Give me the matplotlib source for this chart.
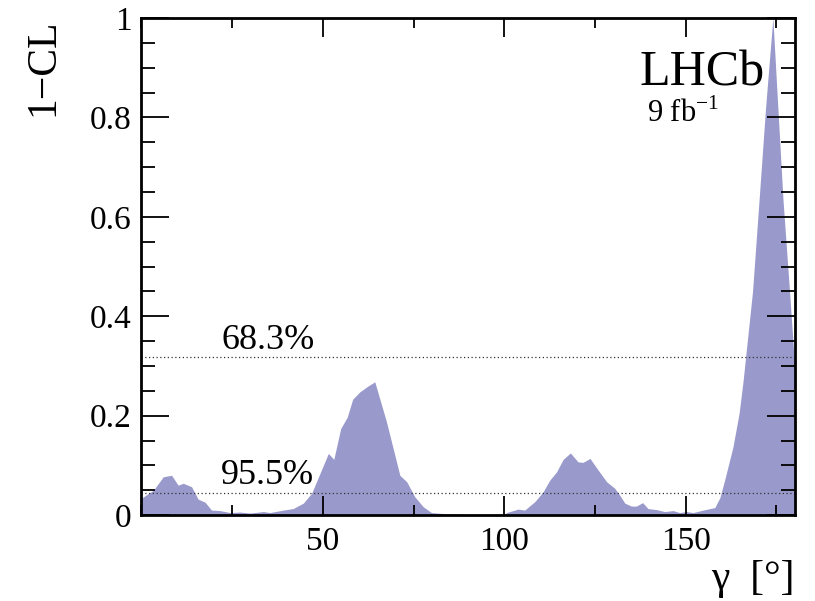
import matplotlib
matplotlib.use("Agg")
import matplotlib.pyplot as plt
from matplotlib.ticker import MultipleLocator
import numpy as np

# ============================
# Data (gamma in degrees, 1-CL)
# ============================
gamma = [0.0, 3.3, 6.0, 8.3, 10.1, 11.5, 13.8, 15.6, 17.5, 19.3, 21.6, 24.4,
         27.1, 29.9, 33.6, 35.4, 39.1, 41.8, 44.6, 46.9, 49.2, 51.5, 53.0,
         54.9, 56.7, 58.2, 60.2, 62.5, 64.3, 67.5, 71.2, 73.1, 75.3, 77.6,
         79.9, 83.1, 90.0, 100.0, 100.6, 103.8, 105.6, 108.4, 110.7, 112.5,
         114.4, 116.2, 118.2, 120.3, 121.7, 123.6, 125.8, 128.2, 130.4, 131.8,
         133.2, 135.0, 136.4, 138.1, 139.6, 141.9, 144.2, 146.5, 148.3, 150.2,
         152.0, 154.8, 158.0, 159.4, 160.7, 163.0, 164.7, 165.8, 168.4, 170.2,
         172.0, 174.0, 176.8, 178.5, 180.0]
one_minus_cl = [0.034, 0.050, 0.077, 0.080, 0.060, 0.064, 0.057, 0.032, 0.026,
                0.010, 0.009, 0.005, 0.006, 0.004, 0.007, 0.005, 0.010, 0.013,
                0.024, 0.044, 0.084, 0.124, 0.112, 0.174, 0.197, 0.233, 0.248,
                0.260, 0.268, 0.188, 0.080, 0.067, 0.037, 0.017, 0.005, 0.003,
                0.001, 0.001, 0.005, 0.012, 0.010, 0.027, 0.047, 0.070, 0.087,
                0.112, 0.125, 0.107, 0.106, 0.114, 0.091, 0.067, 0.054, 0.040,
                0.024, 0.018, 0.018, 0.025, 0.013, 0.011, 0.007, 0.009, 0.005,
                0.007, 0.005, 0.010, 0.015, 0.035, 0.070, 0.137, 0.205, 0.270,
                0.450, 0.634, 0.820, 1.000, 0.634, 0.460, 0.300]

cl_levels = [0.317, 0.045]
cl_labels = ["68.3%", "95.5%"]

# ============================
# Style (ROOT / LHCb look)
# ============================
plt.rcParams["font.family"] = ["Liberation Serif", "DejaVu Serif"]
plt.rcParams["mathtext.fontset"] = "custom"
plt.rcParams["mathtext.rm"] = "Liberation Serif"

fig = plt.figure(figsize=(8.15, 6.01), dpi=100)
ax = fig.add_axes([0.1736, 0.143, 0.8014, 0.827])

ax.fill_between(gamma, one_minus_cl, 0, color="#9999cc", linewidth=0, zorder=1)

for lvl, lab in zip(cl_levels, cl_labels):
    ax.axhline(lvl, color="#333333", linestyle=(0, (1, 2)), linewidth=0.9, zorder=2)
    ax.text(22, lvl + 0.017, lab, fontsize=26, ha="left", va="baseline", zorder=3)

ax.set_xlim(0, 180)
ax.set_ylim(0, 1)

ax.xaxis.set_major_locator(MultipleLocator(50))
ax.xaxis.set_minor_locator(MultipleLocator(25))
ax.yaxis.set_major_locator(MultipleLocator(0.2))
ax.yaxis.set_minor_locator(MultipleLocator(0.05))
ax.set_xticks([50, 100, 150])
ax.set_xticklabels(["50", "100", "150"])
ax.set_yticks([0, 0.2, 0.4, 0.6, 0.8, 1.0])
ax.set_yticklabels(["0", "0.2", "0.4", "0.6", "0.8", "1"])

ax.tick_params(which="both", direction="in", top=True, right=True, labelsize=24)
ax.tick_params(axis="x", which="major", length=14, width=1.3, pad=8)
ax.tick_params(axis="x", which="minor", length=7, width=1.3)
ax.tick_params(axis="y", which="major", length=20, width=1.3, pad=7)
ax.tick_params(axis="y", which="minor", length=10, width=1.3)
for sp in ax.spines.values():
    sp.set_linewidth(2)
    sp.set_zorder(5)

ax.set_xlabel("γ  [°]", fontsize=30, loc="right", labelpad=2)
ax.set_ylabel("1−CL", fontsize=30, loc="top", labelpad=20)

ax.text(0.954, 0.935, "LHCb", transform=ax.transAxes, fontsize=36,
        ha="right", va="top")
ax.text(0.774, 0.79, r"9 fb$^{\mathrm{-1}}$", transform=ax.transAxes,
        fontsize=22, ha="left", va="baseline")

plt.savefig("out.png", dpi=100)
